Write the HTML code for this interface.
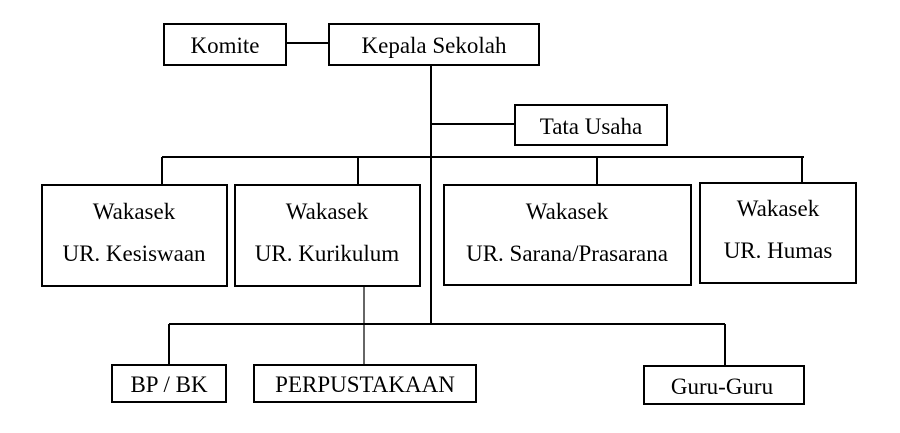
<!DOCTYPE html>
<html><head><meta charset="utf-8"><style>
body{margin:0;background:#fff;}
svg text{font-family:"Liberation Serif",serif;font-size:23px;fill:#000;text-anchor:middle;}
</style></head><body>
<svg width="900" height="428" viewBox="0 0 900 428" xmlns="http://www.w3.org/2000/svg">
<g fill="none" stroke="#000" stroke-width="2">
<rect x="164" y="24" width="122" height="41"/>
<rect x="329" y="24" width="210" height="41"/>
<rect x="515" y="105" width="152" height="40"/>
<rect x="42" y="185" width="185" height="101"/>
<rect x="235" y="185" width="185" height="101"/>
<rect x="444" y="185" width="247" height="100"/>
<rect x="700" y="183" width="156" height="100"/>
<rect x="112" y="365" width="114" height="37"/>
<rect x="254" y="365" width="222" height="37"/>
<rect x="644" y="366" width="160" height="38"/>
<path d="M286 43H329 M431 65V324 M431 124H515 M162 157H804 M162 157V185 M358 157V185 M597 157V185 M802 157V183 M169 324H725 M169 324V365 M725 324V366"/>
</g>
<path d="M364 286V365" stroke="#000" stroke-width="1.2" fill="none"/>
<text x="225" y="53">Komite</text>
<text x="434" y="53">Kepala Sekolah</text>
<text x="591" y="134">Tata Usaha</text>
<text x="134" y="219">Wakasek</text>
<text x="134" y="261">UR. Kesiswaan</text>
<text x="327" y="219">Wakasek</text>
<text x="327" y="261">UR. Kurikulum</text>
<text x="567" y="219">Wakasek</text>
<text x="567" y="261">UR. Sarana/Prasarana</text>
<text x="778" y="216">Wakasek</text>
<text x="778" y="258">UR. Humas</text>
<text x="169" y="392">BP / BK</text>
<text x="365" y="392">PERPUSTAKAAN</text>
<text x="722" y="394">Guru-Guru</text>
</svg>
</body></html>
